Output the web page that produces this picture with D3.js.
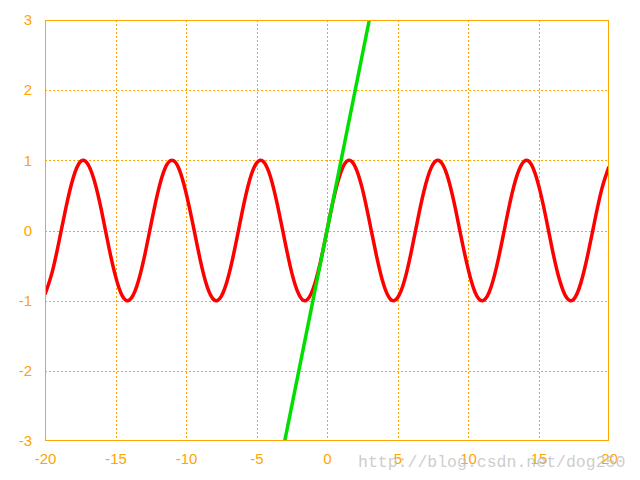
<!DOCTYPE html>
<html><head><meta charset="utf-8">
<script src="https://cdn.jsdelivr.net/npm/d3@7"></script>
<style>body{margin:0;background:#fff}svg{display:block}</style>
</head><body>
<script>
const xTicks = [-20,-15,-10,-5,0,5,10,15,20];
const yTicks = [-3,-2,-1,0,1,2,3];
const sinX = [-20,-19.5,-19,-18.5,-18,-17.5,-17,-16.5,-16,-15.5,-15,-14.5,-14,-13.5,-13,-12.5,-12,-11.5,-11,-10.5,-10,-9.5,-9,-8.5,-8,-7.5,-7,-6.5,-6,-5.5,-5,-4.5,-4,-3.5,-3,-2.5,-2,-1.5,-1,-0.5,0,0.5,1,1.5,2,2.5,3,3.5,4,4.5,5,5.5,6,6.5,7,7.5,8,8.5,9,9.5,10,10.5,11,11.5,12,12.5,13,13.5,14,14.5,15,15.5,16,16.5,17,17.5,18,18.5,19,19.5,20];
const sinY = [-0.91,-0.60,-0.15,0.34,0.75,0.98,0.96,0.71,0.29,-0.21,-0.65,-0.94,-0.99,-0.80,-0.42,0.07,0.54,0.88,1.00,0.88,0.54,0.08,-0.41,-0.80,-0.99,-0.94,-0.66,-0.22,0.28,0.71,0.96,0.98,0.76,0.35,-0.14,-0.60,-0.91,-1.00,-0.84,-0.48,0,0.48,0.84,1.00,0.91,0.60,0.14,-0.35,-0.76,-0.98,-0.96,-0.71,-0.28,0.22,0.66,0.94,0.99,0.80,0.41,-0.08,-0.54,-0.88,-1.00,-0.88,-0.54,-0.07,0.42,0.80,0.99,0.94,0.65,0.21,-0.29,-0.71,-0.96,-0.98,-0.75,-0.34,0.15,0.60,0.91];
const lineX = [-3,3];
const lineY = [-3,3];

const W=640,H=480, L=45, R=609, T=20, B=441;
const orange="#FFA500";
const svg=d3.select("body").append("svg").attr("width",W).attr("height",H);
const x=d3.scaleLinear().domain([-20,20]).range([L,R]);
const y=d3.scaleLinear().domain([-3,3]).range([B,T]);

// grid
svg.append("g").selectAll("line").data(xTicks.slice(1,-1)).join("line")
  .attr("x1",d=>Math.round(x(d))+0.5).attr("x2",d=>Math.round(x(d))+0.5)
  .attr("y1",T).attr("y2",B).attr("stroke",orange).attr("stroke-dasharray","2,2");
svg.append("g").selectAll("line").data(yTicks.slice(1,-1)).join("line")
  .attr("y1",d=>Math.round(y(d))+0.5).attr("y2",d=>Math.round(y(d))+0.5)
  .attr("x1",L).attr("x2",R).attr("stroke",orange).attr("stroke-dasharray","2,2");

const fmt = d => String(d);
const xAxis=d3.axisBottom(x).tickValues(xTicks).tickSize(0).tickPadding(12).tickFormat(fmt);
const gx=svg.append("g").attr("transform",`translate(0,${B})`).call(xAxis);
gx.select(".domain").remove();
gx.selectAll("text").attr("fill",orange).attr("font-family","Liberation Sans, Arial, sans-serif").attr("font-size",15);
const yAxis=d3.axisLeft(y).tickValues(yTicks).tickSize(0).tickPadding(13).tickFormat(fmt);
const gy=svg.append("g").attr("transform",`translate(${L},0)`).call(yAxis);
gy.select(".domain").remove();
gy.selectAll("text").attr("fill",orange).attr("font-family","Liberation Sans, Arial, sans-serif").attr("font-size",15);

svg.append("clipPath").attr("id","clip").append("rect").attr("x",L).attr("y",T).attr("width",R-L).attr("height",B-T);
const plot=svg.append("g").attr("clip-path","url(#clip)");
const sinData=sinX.map((v,i)=>[v,sinY[i]]);
const linData=lineX.map((v,i)=>[v,lineY[i]]);
plot.append("path").datum(sinData)
  .attr("d",d3.line().x(d=>x(d[0])).y(d=>y(d[1])).curve(d3.curveNatural))
  .attr("fill","none").attr("stroke","#ff0000").attr("stroke-width",3.5);
plot.append("path").datum(linData)
  .attr("d",d3.line().x(d=>x(d[0])).y(d=>y(d[1])))
  .attr("fill","none").attr("stroke","#00e000").attr("stroke-width",3.5);

svg.append("rect").attr("x",L+0.5).attr("y",T+0.5).attr("width",R-L-1).attr("height",B-T-1)
  .attr("fill","none").attr("stroke",orange).attr("stroke-width",1);

svg.append("text").attr("x",358).attr("y",467).text("http://blog.csdn.net/dog250")
  .attr("font-family","Liberation Mono, Courier New, monospace").attr("font-size",16.5)
  .attr("fill","#c0c0c0").attr("fill-opacity",0.8);
</script>
</body></html>
